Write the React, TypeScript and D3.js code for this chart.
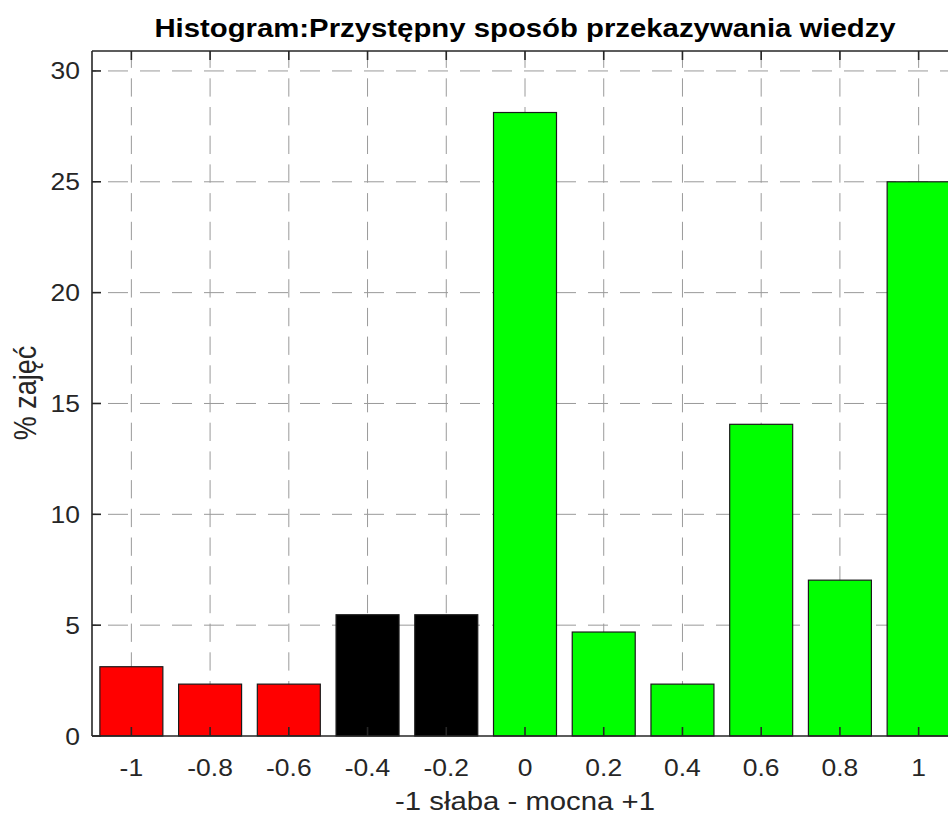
import React from "react";
import * as d3 from "d3";

// histogram bins (centres) and percentage of classes in each bin
const binCentres = [-1, -0.8, -0.6, -0.4, -0.2, 0, 0.2, 0.4, 0.6, 0.8, 1];
const percents = [3.125, 2.34, 2.34, 5.47, 5.47, 28.125, 4.69, 2.34, 14.06, 7.03, 25];
const barColors = ["#ff0000", "#ff0000", "#ff0000", "#000000", "#000000", "#00ff00", "#00ff00", "#00ff00", "#00ff00", "#00ff00", "#00ff00"];

const xTicks = [-1, -0.8, -0.6, -0.4, -0.2, 0, 0.2, 0.4, 0.6, 0.8, 1];
const xTickLabels = ["-1", "-0.8", "-0.6", "-0.4", "-0.2", "0", "0.2", "0.4", "0.6", "0.8", "1"];
const yTicks = [0, 5, 10, 15, 20, 25, 30];

const title = "Histogram:Przystępny sposób przekazywania wiedzy";
const xLabel = "-1 słaba - mocna +1";
const yLabel = "% zajęć";

const W = 948;
const H = 816;
const left = 92;
const right = 958;
const top = 51;
const bottom = 736;
const stretch = 1.15; // text in the reference is a bit wider than tall
const axisCol = "#262626";
const font = "'Liberation Sans', Arial, Helvetica, sans-serif";

export default function App() {
  const x = d3.scaleLinear().domain([-1.1, 1.1]).range([left, right]);
  const y = d3.scaleLinear().domain([0, 30.9]).range([bottom, top]);
  const bw = x(0.08) - x(-0.08);

  return (
    <>
      <style>{`body{margin:0}`}</style>
      <svg width={W} height={H} style={{ display: "block", background: "#fff" }}>
        {/* grid */}
        <g stroke="#9a9a9a" strokeWidth={1}>
          {yTicks.filter((t) => t > 0).map((t) => (
            <line key={"h" + t} x1={left} x2={right} y1={y(t)} y2={y(t)} strokeDasharray="20,12" strokeDashoffset={16} />
          ))}
          {xTicks.map((t) => (
            <line key={"v" + t} x1={x(t)} x2={x(t)} y1={top} y2={bottom} strokeDasharray="18.3,10.4" strokeDashoffset={1.4} />
          ))}
        </g>

        {/* bars */}
        <g stroke="#1a1a1a" strokeWidth={1.2}>
          {binCentres.map((c, i) => (
            <rect
              key={c}
              x={x(c) - bw / 2}
              y={y(percents[i])}
              width={bw}
              height={y(0) - y(percents[i])}
              fill={barColors[i]}
            />
          ))}
        </g>

        {/* axes box and ticks */}
        <g stroke={axisCol} strokeWidth={1.6} fill="none">
          <line x1={left} x2={right} y1={bottom} y2={bottom} />
          <line x1={left} x2={right} y1={top} y2={top} />
          <line x1={left} x2={left} y1={top} y2={bottom} />
          <line x1={right} x2={right} y1={top} y2={bottom} />
          {xTicks.map((t) => (
            <g key={"xt" + t}>
              <line x1={x(t)} x2={x(t)} y1={bottom} y2={bottom - 9} />
              <line x1={x(t)} x2={x(t)} y1={top} y2={top + 9} />
            </g>
          ))}
          {yTicks.map((t) => (
            <g key={"yt" + t}>
              <line x1={left} x2={left + 9} y1={y(t)} y2={y(t)} />
              <line x1={right} x2={right - 9} y1={y(t)} y2={y(t)} />
            </g>
          ))}
        </g>

        {/* tick labels */}
        <g fill={axisCol} fontFamily={font} fontSize={23}>
          {xTicks.map((t, i) => (
            <text key={"xl" + t} transform={`translate(${x(t)},776) scale(${stretch},1)`} textAnchor="middle">
              {xTickLabels[i]}
            </text>
          ))}
          {yTicks.map((t) => (
            <text key={"yl" + t} transform={`translate(80,${y(t) + 8.5}) scale(${stretch},1)`} textAnchor="end">
              {t}
            </text>
          ))}
        </g>

        {/* labels */}
        <text
          transform={`translate(${(left + right) / 2},810) scale(${stretch},1)`}
          textAnchor="middle"
          fontFamily={font}
          fontSize={25.5}
          fill={axisCol}
        >
          {xLabel}
        </text>
        <text
          transform={`translate(36,393) scale(${stretch},1) rotate(-90)`}
          textAnchor="middle"
          fontFamily={font}
          fontSize={27}
          fill={axisCol}
        >
          {yLabel}
        </text>
        <text
          transform={`translate(${(left + right) / 2},37) scale(${stretch},1)`}
          textAnchor="middle"
          fontFamily={font}
          fontSize={25.5}
          fontWeight="bold"
          fill="#000"
        >
          {title}
        </text>
      </svg>
    </>
  );
}
